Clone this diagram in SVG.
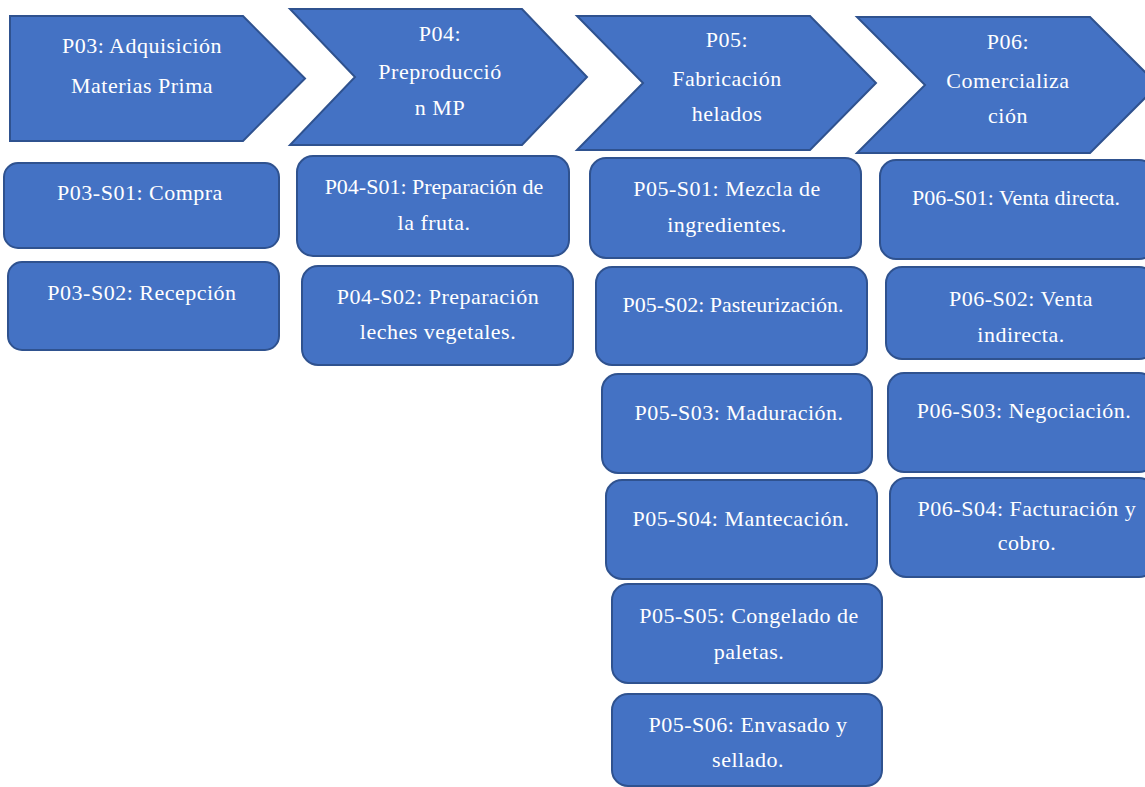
<svg xmlns="http://www.w3.org/2000/svg" width="1145" height="787" viewBox="0 0 1145 787">
  <style>
    .shape { fill: #4472C4; stroke: #2F528F; stroke-width: 2; }
    .lbl { font-family: "Liberation Serif", "Times New Roman", serif; font-size: 22px; fill: #FFFFFF; text-anchor: middle; letter-spacing: 0.5px; }
    .tight { letter-spacing: 0px; }
  </style>
  <rect x="0" y="0" width="1145" height="787" fill="#FFFFFF"/>

  <!-- Process chevrons -->
  <g id="P03">
    <polygon class="shape" points="10,16 243,16 305,78.5 243,141 10,141"/>
    <text class="lbl" x="142" y="53">P03: Adquisición</text>
    <text class="lbl" x="142" y="93">Materias Prima</text>
  </g>
  <g id="P04">
    <polygon class="shape" points="290,9 522,9 587,77 522,145 290,145 355,77"/>
    <text class="lbl" x="440" y="41">P04:</text>
    <text class="lbl" x="440" y="79">Preproducció</text>
    <text class="lbl" x="440" y="115">n MP</text>
  </g>
  <g id="P05">
    <polygon class="shape" points="577,16 810,16 876,83 810,150 577,150 643,83"/>
    <text class="lbl" x="727" y="47">P05:</text>
    <text class="lbl" x="727" y="86">Fabricación</text>
    <text class="lbl" x="727" y="121">helados</text>
  </g>
  <g id="P06">
    <polygon class="shape" points="857,17 1090,17 1158,85 1090,153 857,153 925,85"/>
    <text class="lbl" x="1008" y="49">P06:</text>
    <text class="lbl" x="1008" y="88">Comercializa</text>
    <text class="lbl" x="1008" y="123">ción</text>
  </g>

  <!-- Sub-process boxes -->
  <g id="P03-S01">
    <rect class="shape" x="4" y="163" width="275" height="85" rx="14"/>
    <text class="lbl" x="140" y="200">P03-S01: Compra</text>
  </g>
  <g id="P03-S02">
    <rect class="shape" x="8" y="262" width="271" height="88" rx="14"/>
    <text class="lbl" x="142" y="300">P03-S02: Recepción</text>
  </g>

  <g id="P04-S01">
    <rect class="shape" x="297" y="156" width="272" height="100" rx="16"/>
    <text class="lbl tight" x="434" y="194">P04-S01: Preparación de</text>
    <text class="lbl" x="434" y="230">la fruta.</text>
  </g>
  <g id="P04-S02">
    <rect class="shape" x="302" y="266" width="271" height="99" rx="16"/>
    <text class="lbl" x="438" y="304">P04-S02: Preparación</text>
    <text class="lbl" x="438" y="339">leches vegetales.</text>
  </g>

  <g id="P05-S01">
    <rect class="shape" x="590" y="158" width="271" height="100" rx="16"/>
    <text class="lbl" x="727" y="196">P05-S01: Mezcla de</text>
    <text class="lbl" x="727" y="232">ingredientes.</text>
  </g>
  <g id="P05-S02">
    <rect class="shape" x="596" y="267" width="271" height="98" rx="16"/>
    <text class="lbl tight" x="733" y="312">P05-S02: Pasteurización.</text>
  </g>
  <g id="P05-S03">
    <rect class="shape" x="602" y="374" width="270" height="99" rx="16"/>
    <text class="lbl" x="739" y="420">P05-S03: Maduración.</text>
  </g>
  <g id="P05-S04">
    <rect class="shape" x="606" y="480" width="271" height="99" rx="16"/>
    <text class="lbl" x="741" y="526">P05-S04: Mantecación.</text>
  </g>
  <g id="P05-S05">
    <rect class="shape" x="612" y="584" width="270" height="99" rx="16"/>
    <text class="lbl" x="749" y="623">P05-S05: Congelado de</text>
    <text class="lbl" x="749" y="659">paletas.</text>
  </g>
  <g id="P05-S06">
    <rect class="shape" x="612" y="694" width="270" height="92" rx="16"/>
    <text class="lbl" x="748" y="732">P05-S06: Envasado y</text>
    <text class="lbl" x="748" y="767">sellado.</text>
  </g>

  <g id="P06-S01">
    <rect class="shape" x="880" y="160" width="275" height="99" rx="16"/>
    <text class="lbl tight" x="1016" y="205">P06-S01: Venta directa.</text>
  </g>
  <g id="P06-S02">
    <rect class="shape" x="886" y="267" width="269" height="92" rx="16"/>
    <text class="lbl" x="1021" y="306">P06-S02: Venta</text>
    <text class="lbl" x="1021" y="342">indirecta.</text>
  </g>
  <g id="P06-S03">
    <rect class="shape" x="888" y="373" width="267" height="99" rx="16"/>
    <text class="lbl" x="1024" y="418">P06-S03: Negociación.</text>
  </g>
  <g id="P06-S04">
    <rect class="shape" x="890" y="478" width="265" height="99" rx="16"/>
    <text class="lbl" x="1027" y="516">P06-S04: Facturación y</text>
    <text class="lbl" x="1027" y="550">cobro.</text>
  </g>

  <g id="connectors"/>
</svg>
